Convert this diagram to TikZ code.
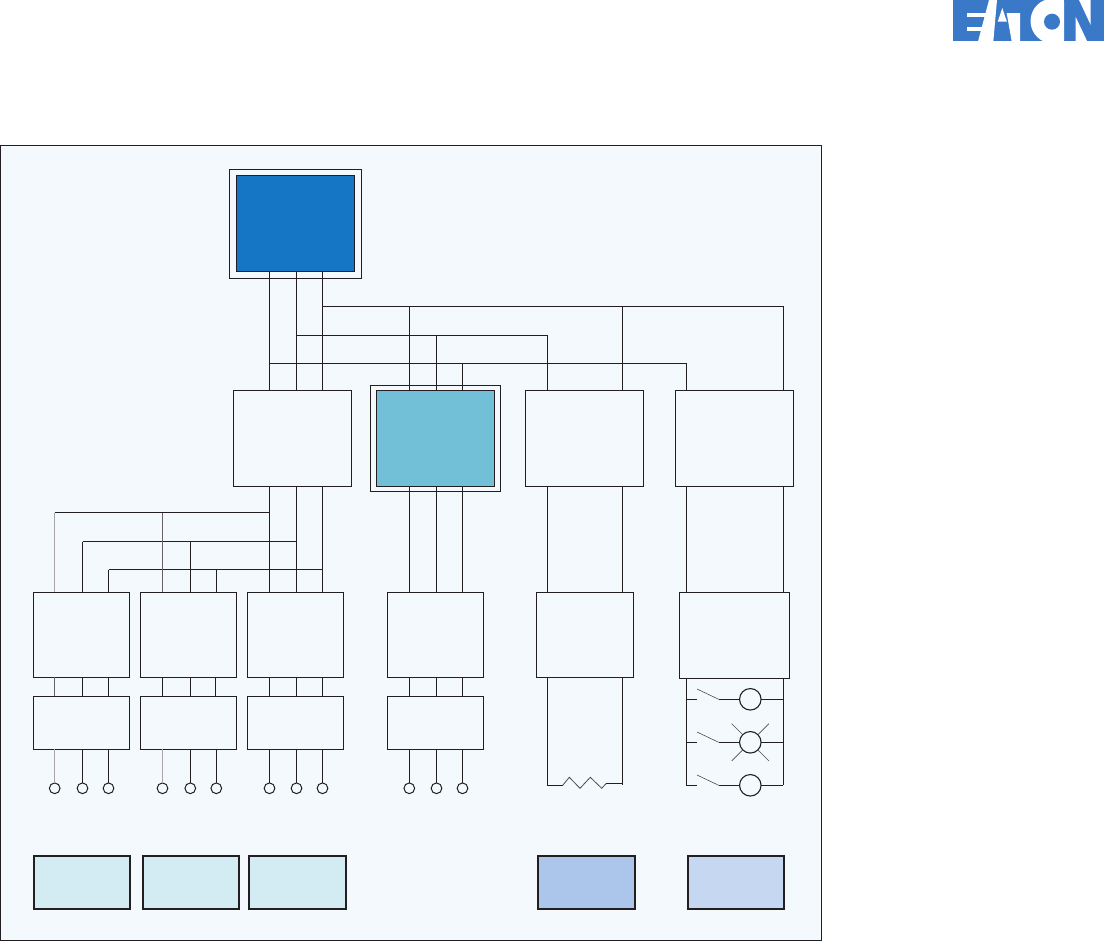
\documentclass[tikz,border=0pt]{standalone}
\definecolor{ink}{HTML}{231F20}
\definecolor{panelbg}{HTML}{F3F9FC}
\definecolor{cpublue}{HTML}{1476C4}
\definecolor{midcyan}{HTML}{72BFD8}
\definecolor{palecyan}{HTML}{D3EBF3}
\definecolor{legendblue}{HTML}{ABC6EA}
\definecolor{legendpale}{HTML}{C5D7F1}
\definecolor{logoblue}{HTML}{3A78C8}
\tikzset{
  wire/.style={draw=ink,line width=1.1pt},
  faint/.style={draw=ink!40,line width=1.1pt},
  mid/.style={draw=ink!70,line width=1.1pt},
  thin/.style={draw=ink!80,line width=0.6pt},
  blockbox/.style={draw=ink,line width=1.1pt,fill=panelbg,inner sep=0pt,outer sep=0pt},
  legendbox/.style={draw=ink,line width=1.7pt,inner sep=0pt,outer sep=0pt},
  terminal/.style={circle,draw=ink,line width=1pt,fill=panelbg,minimum size=10.7pt,inner sep=0pt,outer sep=0pt},
  lamp/.style={circle,draw=ink,line width=1.1pt,fill=panelbg,minimum size=21.5pt,inner sep=0pt,outer sep=0pt},
}
% name, left, top, right, bottom, style
\newcommand{\boxat}[6]{\node[blockbox,#6,minimum width=#4pt-#2pt,minimum height=#5pt-#3pt] (#1) at ({(#2+#4)/2},{(#3+#5)/2}) {};}
\begin{document}
\begin{tikzpicture}[x=1pt,y=-1pt]
\useasboundingbox (0,0) rectangle (1104,941);
\fill[white] (0,0) rectangle (1104,941);
% logo
\fill[logoblue] (953.3,0) rectangle (1103.6,41.5);
\fill[white] (989,0) -- (997,0) -- (993.3,41.5) -- (978,41.5) -- cycle;
\fill[white] (966.8,13) rectangle (990,16.6);
\fill[white] (966.8,27.3) rectangle (986,30.8);
\fill[white] (1002.3,8) -- (1006.9,21.7) -- (997.7,21.7) -- cycle;
\fill[white] (1006.7,13.2) -- (1020,13.2) -- (1020,41.5) -- (1011.7,41.5) -- cycle;
\begin{scope}
\clip (1020,0) rectangle (1064,41.5);
\fill[white] (1053,21) circle (22.5);
\fill[white] (1053,0) rectangle (1064,41.5);
\end{scope}
\fill[logoblue] (1052,21.7) circle (8);
\fill[white] (1079,0) -- (1090.7,0) -- (1090.7,25) -- cycle;
\fill[white] (1075.7,17) -- (1075.7,41.5) -- (1087.3,41.5) -- cycle;
% panel
\node[draw=ink,line width=1.1pt,fill=panelbg,minimum width=820.5pt,minimum height=794.5pt,inner sep=0pt,outer sep=0pt] (panel) at (410.8,542.8) {};
% x positions of the buses
\foreach \n/\v in {a/269.5,b/296.5,c/322.5,d/409.5,e/436.5,f/462.5,g/547.3,h/622.3,i/686.3,j/783.3,k/54.7,l/82.5,m/108.5,n/162.5,o/190.5,p/216.5,q/215.5}
  \coordinate (x\n) at (\v,0);
\coordinate (busA) at (0,306.3);
\coordinate (busB) at (0,335.3);
\coordinate (busC) at (0,363.3);
\coordinate (busD) at (0,512.5);
\coordinate (busE) at (0,541.5);
\coordinate (busF) at (0,569.5);
% top unit
\boxat{cpuouter}{229.4}{169.4}{361.4}{278.2}{}
\boxat{cpu}{236.4}{175.4}{354.6}{271.3}{fill=cpublue}
% second row
\boxat{unitA}{233.4}{390.3}{351.4}{486.3}{}
\boxat{midouter}{370.4}{385.3}{500.4}{491.3}{}
\boxat{midbox}{376.4}{390.3}{494.6}{486.3}{fill=midcyan}
\boxat{unitC}{525.4}{390.3}{643.4}{486.3}{}
\boxat{unitD}{675.4}{390.3}{793.4}{486.3}{}
% third row
\boxat{r1}{33.4}{592.3}{129.5}{677.3}{}
\boxat{r2}{140.4}{592.3}{236.5}{677.3}{}
\boxat{r3}{247.4}{592.3}{343.5}{677.3}{}
\boxat{r4}{387.4}{592.3}{483.5}{677.3}{}
\boxat{r5}{536.4}{592.3}{633.4}{677.3}{}
\boxat{r6}{679.4}{592.3}{789.4}{678.3}{}
% fourth row
\boxat{s1}{33.4}{696.3}{129.5}{749.3}{}
\boxat{s2}{140.4}{696.3}{236.5}{749.3}{}
\boxat{s3}{247.4}{696.3}{343.5}{749.3}{}
\boxat{s4}{387.4}{696.3}{483.5}{749.3}{}
% terminals
\foreach \n/\v in {t1/54.7,t2/82.5,t3/108.5,t4/162.5,t5/190.3,t6/216.3,t7/269.5,t8/296.5,t9/322.5,t10/409.3,t11/436.5,t12/462.5}
  \node[terminal] (\n) at (\v,788.3) {};
% legend
\node[legendbox,fill=palecyan,minimum width=96.6pt,minimum height=53.6pt] (l1) at (82,882.5) {};
\node[legendbox,fill=palecyan,minimum width=96.6pt,minimum height=53.6pt] (l2) at (191,882.5) {};
\node[legendbox,fill=palecyan,minimum width=97pt,minimum height=53.6pt] (l3) at (297.5,882.5) {};
\node[legendbox,fill=legendblue,minimum width=97.3pt,minimum height=53.6pt] (l4) at (586.3,882.5) {};
\node[legendbox,fill=legendpale,minimum width=96.3pt,minimum height=53.6pt] (l5) at (735.8,882.5) {};
% cpu to unitA
\foreach \x in {a,b,c} \draw[wire] (cpu.south -| x\x) -- (unitA.north -| x\x);
% upper buses
\draw[wire] (xc |- busA) -- (xj |- busA);
\draw[wire] (xb |- busB) -- (xg |- busB);
\draw[wire] (xa |- busC) -- (xi |- busC);
\draw[wire] (xd |- busA) -- (midbox.north -| xd);
\draw[wire] (xe |- busB) -- (midbox.north -| xe);
\draw[wire] (xf |- busC) -- (midbox.north -| xf);
\draw[wire] (xg |- busB) -- (unitC.north -| xg);
\draw[wire] (xh |- busA) -- (unitC.north -| xh);
\draw[wire] (xi |- busC) -- (unitD.north -| xi);
\draw[wire] (xj |- busA) -- (unitD.north -| xj);
% unitA to r3
\foreach \x in {a,b,c} \draw[wire] (unitA.south -| x\x) -- (r3.north -| x\x);
% lower buses
\draw[wire] (xk |- busD) -- (xa |- busD);
\draw[wire] (xl |- busE) -- (xb |- busE);
\draw[wire] (xm |- busF) -- (xc |- busF);
\draw[faint] (xk |- busD) -- (r1.north -| xk);
\draw[wire] (xl |- busE) -- (r1.north -| xl);
\draw[wire] (xm |- busF) -- (r1.north -| xm);
\draw[mid] (xn |- busD) -- (r2.north -| xn);
\draw[wire] (xo |- busE) -- (r2.north -| xo);
\draw[wire] (xp |- busF) -- (r2.north -| xp);
% mid column
\foreach \x in {d,e,f} {
  \draw[wire] (midbox.south -| x\x) -- (r4.north -| x\x);
  \draw[wire] (r4.south -| x\x) -- (s4.north -| x\x);
  \draw[wire] (s4.south -| x\x) -- +(0,34);
}
% first three groups r to s
\draw[mid] (r1.south -| xk) -- (s1.north -| xk);
\draw[wire] (r1.south -| xl) -- (s1.north -| xl);
\draw[wire] (r1.south -| xm) -- (s1.north -| xm);
\draw[wire] (r2.south -| xn) -- (s2.north -| xn);
\draw[wire] (r2.south -| xo) -- (s2.north -| xo);
\draw[wire] (r2.south -| xq) -- (s2.north -| xq);
\foreach \x in {a,b,c} \draw[wire] (r3.south -| x\x) -- (s3.north -| x\x);
% s to terminals
\draw[faint] (s1.south -| t1) -- (t1.north);
\draw[wire] (s1.south -| t2) -- (t2.north);
\draw[wire] (s1.south -| t3) -- (t3.north);
\draw[faint] (s2.south -| t4) -- (t4.north);
\draw[wire] (s2.south -| xo) -- (xo |- t5.north);
\draw[wire] (s2.south -| xp) -- (xp |- t6.north);
\draw[wire] (s3.south -| t7) -- (t7.north);
\draw[wire] (s3.south -| t8) -- (t8.north);
\draw[wire] (s3.south -| t9) -- (t9.north);
% unitC to r5 and resistor
\draw[wire] (unitC.south -| xg) -- (r5.north -| xg);
\draw[wire] (unitC.south -| xh) -- (r5.north -| xh);
\coordinate (resL) at (547.3,785.3);
\coordinate (resR) at (622.3,783.7);
\draw[wire] (r5.south -| resL) -- (resL) -- (562.7,785.3);
\draw[thin,line width=0.8pt] (562.7,785.3) -- (569.3,777.3) -- (580,788.3) -- (590.3,777.3) -- (601.7,788.3) -- (606,783.7);
\draw[wire] (606,783.7) -- (resR);
\draw[wire] (r5.south -| resR) -- (622.3,785.3);
% unitD to r6 and lamps
\draw[wire] (unitD.south -| xi) -- (r6.north -| xi);
\draw[wire] (unitD.south -| xj) -- (r6.north -| xj);
\node[lamp] (lampA) at (750.3,699.3) {};
\node[lamp] (lampB) at (750.3,742.3) {};
\node[lamp] (lampC) at (750.3,785.3) {};
\coordinate (railL) at (686.3,785.3);
\coordinate (railR) at (783.3,785.3);
\draw[wire] (r6.south -| railL) -- (railL);
\draw[wire] (r6.south -| railR) -- (railR);
\foreach \l in {lampA,lampB,lampC} {
  \draw[wire] (railL |- \l) -- ++(10.5,0);
  \draw[wire] (718.7,0 |- \l) -- (\l.west);
  \draw[thin] (697,0 |- \l) ++(0,-10.3) -- (718.7,0 |- \l);
  \draw[wire] (\l.east) -- (railR |- \l);
}
\draw[thin] (lampB.135) ++(-0.3,-0.3) -- ++(-10.7,-10.7);
\draw[thin] (lampB.45) ++(0.3,-0.3) -- ++(10.7,-10.7);
\draw[thin] (lampB.225) ++(-0.3,0.3) -- ++(-10.7,10.7);
\draw[thin] (lampB.315) ++(0.3,0.3) -- ++(10.7,10.7);
\end{tikzpicture}
\end{document}
